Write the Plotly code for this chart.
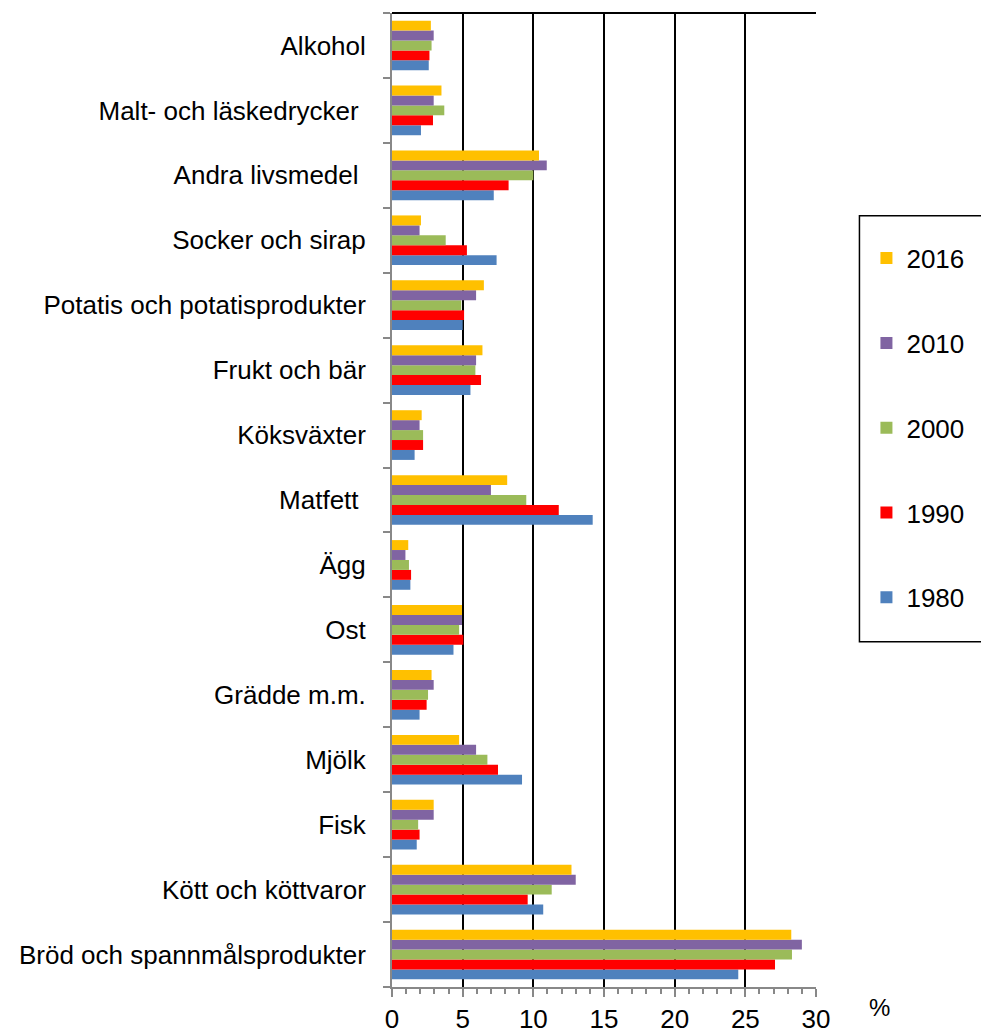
import plotly.graph_objects as go

categories = ["Bröd och spannmålsprodukter", "Kött och köttvaror", "Fisk", "Mjölk",
              "Grädde m.m.", "Ost", "Ägg", "Matfett", "Köksväxter", "Frukt och bär",
              "Potatis och potatisprodukter", "Socker och sirap", "Andra livsmedel",
              "Malt- och läskedrycker", "Alkohol"]
tick_labels = ["Bröd och spannmålsprodukter", "Kött och köttvaror", "Fisk", "Mjölk",
               "Grädde m.m.", "Ost", "Ägg", "Matfett\u00a0", "Köksväxter", "Frukt och bär",
               "Potatis och potatisprodukter", "Socker och sirap", "Andra livsmedel\u00a0",
               "Malt- och läskedrycker\u00a0", "Alkohol"]

v1980 = [24.5, 10.7, 1.75, 9.2, 1.95, 4.35, 1.3, 14.2, 1.6, 5.55, 5.0, 7.4, 7.2, 2.05, 2.6]
v1990 = [27.1, 9.6, 1.95, 7.5, 2.45, 5.05, 1.35, 11.8, 2.2, 6.3, 5.1, 5.3, 8.25, 2.9, 2.65]
v2000 = [28.3, 11.3, 1.85, 6.75, 2.55, 4.75, 1.2, 9.5, 2.2, 5.9, 4.9, 3.8, 10.0, 3.7, 2.8]
v2010 = [29.0, 13.0, 2.95, 5.95, 2.95, 4.95, 0.95, 7.0, 1.95, 5.95, 5.95, 1.95, 10.95, 2.95, 2.95]
v2016 = [28.25, 12.7, 2.95, 4.75, 2.8, 4.95, 1.15, 8.15, 2.1, 6.4, 6.5, 2.05, 10.4, 3.5, 2.75]

series = [("1980", v1980, "#4F81BD"), ("1990", v1990, "#FF0000"),
          ("2000", v2000, "#9BBB59"), ("2010", v2010, "#8064A2"),
          ("2016", v2016, "#FFC000")]

FONT = "Liberation Sans, Arial, sans-serif"

fig = go.Figure()
for i, (name, vals, col) in enumerate(series):
    fig.add_trace(go.Bar(y=categories, x=vals, name=name, orientation="h",
                         marker=dict(color=col, line=dict(width=0)),
                         legendgroup=name, legendrank=len(series) - i))

W, H = 981, 1032
L, R, T, B = 392, 164.5, 13.3, 44.7
pw = W - L - R
ph = H - T - B

def px_x(x):
    return (x - L) / pw

def px_y(y):
    return (H - B - y) / ph

fig.update_layout(
    width=W, height=H,
    margin=dict(l=L, r=R, t=T, b=B, pad=0, autoexpand=False),
    paper_bgcolor="white", plot_bgcolor="white",
    barmode="group", bargap=0.235, bargroupgap=0,
    font=dict(family=FONT, size=26, color="black"),
    showlegend=True,
    legend=dict(x=px_x(867), y=px_y(235), xanchor="left", yanchor="top",
                traceorder="grouped", tracegroupgap=48,
                font=dict(size=26, family=FONT, color="black"),
                bgcolor="rgba(0,0,0,0)", borderwidth=0),
    xaxis=dict(range=[0, 30], dtick=5, tick0=0, showgrid=True, automargin=False,
               gridcolor="black", gridwidth=2, zeroline=False,
               showline=True, linecolor="#888888", linewidth=2,
               ticks="outside", ticklen=8, tickwidth=2, tickcolor="#888888",
               minor=dict(dtick=1, ticks="outside", ticklen=5, tickwidth=2,
                          tickcolor="#888888", showgrid=False),
               tickfont=dict(size=26, family=FONT, color="black"),
               ticklabelstandoff=0, fixedrange=True),
    yaxis=dict(type="category", categoryorder="array", categoryarray=categories,
               tickvals=categories, ticktext=tick_labels, automargin=False,
               tickson="boundaries", ticks="outside", ticklen=7, tickwidth=2,
               tickcolor="#888888", showline=True, linecolor="#888888", linewidth=2,
               showgrid=False, zeroline=False,
               tickfont=dict(size=26, family=FONT, color="black"),
               ticklabelstandoff=19, fixedrange=True),
    shapes=[
        dict(type="line", xref="paper", yref="paper", x0=0, x1=1, y0=1, y1=1,
             line=dict(color="black", width=2)),
        dict(type="rect", xref="paper", yref="paper",
             x0=px_x(860), x1=px_x(995), y0=px_y(642), y1=px_y(216),
             line=dict(color="black", width=1.5), fillcolor="rgba(0,0,0,0)"),
    ],
    annotations=[
        dict(text="%", xref="paper", yref="paper", x=px_x(880), y=px_y(1008),
             xanchor="center", yanchor="middle", showarrow=False,
             font=dict(size=24, family=FONT, color="black")),
    ],
)

fig.write_html("out.html", config={"displayModeBar": False},
               post_script="document.body.style.margin='0';")
